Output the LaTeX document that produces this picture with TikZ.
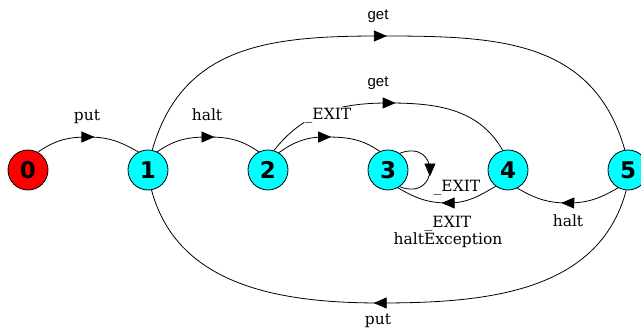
\documentclass[tikz,border=0pt]{standalone}
\usepackage{fontspec}
\setmainfont{DejaVu Serif}
\newfontfamily\labsans{Liberation Sans}
\newfontfamily\numfont{DejaVu Sans}
\usetikzlibrary{arrows.meta,decorations.markings}
\definecolor{stcyan}{RGB}{0,255,255}
\definecolor{stred}{RGB}{255,0,0}
\begin{document}
\begin{tikzpicture}[x=1pt,y=1pt,
  state/.style={circle,draw=black,line width=0.8pt,fill=stcyan,minimum size=40pt,inner sep=0pt,font=\numfont\bfseries\fontsize{23}{23}\selectfont},
  startstate/.style={state,fill=stred},
  edge/.style={draw=black,line width=0.8pt},
  midarrow/.style={postaction={decorate,decoration={markings,mark=at position #1 with {\arrow[xshift=6.5pt]{Triangle[length=13pt,width=11pt]}}}}},
  lab/.style={anchor=base,inner sep=0pt,font=\fontsize{15.5}{17}\selectfont},
  glab/.style={anchor=base,inner sep=0pt,font=\labsans\fontsize{15}{17}\selectfont}
]
\useasboundingbox (0,0) rectangle (641,334);
\node[startstate] (n0) at (28,164) {0};
\node[state] (n1) at (148,164) {1};
\node[state] (n2) at (268,164) {2};
\node[state] (n3) at (388,164) {3};
\node[state] (n4) at (508,164) {4};
\node[state] (n5) at (628,164) {5};

\coordinate (m01) at (88,197);
\coordinate (m12) at (208,197);
\coordinate (m23) at (325,197);
\coordinate (m24) at (388,231);
\coordinate (m15) at (380,298);
\coordinate (m51) at (380,31);
\coordinate (m43) at (448,131);
\coordinate (m54) at (568,131);

\draw[edge,midarrow=0.5] (n0.61) to[out=35,in=180] (m01) to[out=0,in=150] (n1.118);
\draw[edge,midarrow=0.5] (n1.63) to[out=35,in=180] (m12) to[out=0,in=145] (n2.117);
\draw[edge,midarrow=0.46] (n2.58) to[out=35,in=180] (m23) to[out=0,in=145] (n3.114);
\draw[edge,midarrow=0.5] (n2.73) to[out=52,in=180] (m24) to[out=0,in=120] (n4.105);
\draw[edge,midarrow=0.486] (n1.78) to[out=74,in=180,looseness=1.1] (m15) to[out=0,in=106,looseness=1.1] (n5.99);
\draw[edge,midarrow=0.515] (n5.-95) to[out=-105,in=0] (m51) to[out=180,in=-75] (n1.-80);
\draw[edge,midarrow=0.49] (n4.-127) to[out=-150,in=0] (m43) to[out=180,in=-30] (n3.-61);
\draw[edge,midarrow=0.5] (n5.-119) to[out=-150,in=0] (m54) to[out=180,in=-30] (n4.-63);
\draw[edge,midarrow=0.5] (n3.55) .. controls (440,196) and (440,132) .. (n3.-55);

\node[lab] (lput) at (87,213) {put};
\node[lab] (lhalt) at (207,213) {halt};
\node[lab,fill=white,inner sep=1pt] (lexit) at (328,214.5) {\_EXIT};
\node[glab] (lgetmid) at (378,247.5) {get};
\node[glab] (lgettop) at (378,314) {get};
\node[lab] (lputbot) at (378,9) {put};
\node[lab] (lexit43) at (457,142) {\_EXIT};
\node[lab,anchor=center,align=center] (lexithalt) at (448,102.5) {\_EXIT\\haltException};
\node[lab] (lhalt54) at (568,107) {halt};
\end{tikzpicture}
\end{document}
